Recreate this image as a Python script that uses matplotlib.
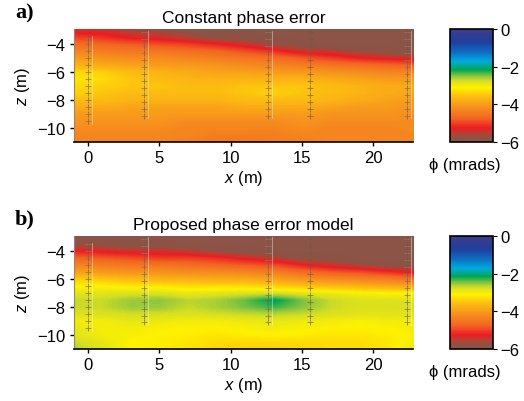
import numpy as np
import matplotlib
matplotlib.use('Agg')
import matplotlib.pyplot as plt
from matplotlib.colors import LinearSegmentedColormap

plt.rcParams['font.family'] = ['Liberation Sans', 'DejaVu Sans']
plt.rcParams['mathtext.fontset'] = 'custom'
plt.rcParams['mathtext.it'] = 'Liberation Sans:italic'
plt.rcParams['mathtext.rm'] = 'Liberation Sans'

# --- grid of the inverted sections (mrad)
grid_x = [-1, 1, 3, 5, 7, 9, 11, 13, 15, 17, 19, 21, 23]
grid_z = [-3.0, -3.5, -4.0, -4.5, -5.0, -5.5, -6.0, -6.5, -7.0,
          -7.5, -8.0, -8.5, -9.0, -9.5, -10.0, -10.5, -11.0]

phase_const = [
    [-5.4, -5.4, -5.6, -5.7, -5.8, -5.9, -6.0, -6.0, -6.0, -6.0, -6.0, -6.0, -6.0],
    [-5.0, -5.1, -5.3, -5.4, -5.6, -5.8, -5.9, -6.0, -6.0, -6.0, -6.0, -6.0, -6.0],
    [-4.6, -4.7, -4.8, -4.9, -5.0, -5.2, -5.4, -5.7, -5.9, -6.0, -6.0, -6.0, -6.0],
    [-4.3, -4.4, -4.5, -4.5, -4.6, -4.7, -4.9, -5.1, -5.4, -5.5, -5.7, -5.9, -6.0],
    [-4.0, -4.1, -4.2, -4.2, -4.3, -4.4, -4.5, -4.6, -4.8, -5.0, -5.2, -5.3, -5.4],
    [-3.7, -3.8, -3.9, -4.0, -4.0, -4.1, -4.2, -4.3, -4.4, -4.5, -4.6, -4.7, -4.8],
    [-3.3, -3.4, -3.6, -3.7, -3.8, -3.9, -3.9, -4.0, -4.0, -4.1, -4.2, -4.3, -4.3],
    [-3.2, -3.3, -3.5, -3.6, -3.7, -3.7, -3.7, -3.7, -3.7, -3.8, -3.9, -4.0, -4.0],
    [-3.3, -3.4, -3.5, -3.5, -3.6, -3.6, -3.5, -3.5, -3.5, -3.6, -3.7, -3.8, -3.8],
    [-3.4, -3.5, -3.6, -3.6, -3.6, -3.6, -3.5, -3.4, -3.5, -3.6, -3.7, -3.8, -3.9],
    [-3.6, -3.6, -3.7, -3.7, -3.7, -3.7, -3.6, -3.6, -3.6, -3.7, -3.8, -3.9, -4.0],
    [-3.8, -3.8, -3.9, -3.9, -3.9, -3.9, -3.8, -3.8, -3.8, -3.9, -4.0, -4.0, -4.1],
    [-4.0, -4.0, -4.0, -4.0, -4.0, -4.0, -4.0, -4.0, -4.0, -4.1, -4.1, -4.1, -4.2],
    [-4.1, -4.1, -4.1, -4.1, -4.2, -4.2, -4.2, -4.2, -4.1, -4.2, -4.2, -4.2, -4.2],
    [-4.2, -4.2, -4.2, -4.2, -4.3, -4.3, -4.3, -4.3, -4.2, -4.3, -4.3, -4.3, -4.2],
    [-4.3, -4.3, -4.3, -4.3, -4.3, -4.4, -4.4, -4.4, -4.3, -4.3, -4.3, -4.3, -4.3],
    [-4.3, -4.3, -4.3, -4.3, -4.4, -4.5, -4.5, -4.4, -4.4, -4.3, -4.3, -4.3, -4.3],
]

phase_model = [
    [-6.0, -6.0, -6.0, -6.0, -6.0, -6.0, -6.0, -6.0, -6.0, -6.0, -6.0, -6.0, -6.0],
    [-5.7, -5.8, -5.9, -5.9, -6.0, -6.0, -6.0, -6.0, -6.0, -6.0, -6.0, -6.0, -6.0],
    [-5.2, -5.3, -5.4, -5.4, -5.5, -5.7, -5.9, -6.0, -6.0, -6.0, -6.0, -6.0, -6.0],
    [-4.7, -4.8, -4.9, -5.0, -5.0, -5.1, -5.3, -5.5, -5.8, -5.9, -6.0, -6.0, -6.0],
    [-4.3, -4.4, -4.5, -4.5, -4.6, -4.7, -4.8, -4.9, -5.2, -5.4, -5.6, -5.8, -5.8],
    [-3.9, -4.0, -4.1, -4.1, -4.2, -4.2, -4.3, -4.4, -4.6, -4.8, -4.9, -5.1, -5.3],
    [-3.4, -3.5, -3.6, -3.7, -3.7, -3.8, -3.8, -3.9, -4.1, -4.2, -4.3, -4.4, -4.6],
    [-3.1, -3.1, -3.2, -3.2, -3.3, -3.3, -3.3, -3.4, -3.5, -3.6, -3.7, -3.8, -3.9],
    [-2.85, -2.85, -2.8, -2.8, -2.9, -2.85, -2.8, -2.75, -2.85, -2.95, -3.05, -3.1, -3.1],
    [-2.7, -2.7, -2.55, -2.5, -2.65, -2.6, -2.4, -2.1, -2.45, -2.7, -2.8, -2.8, -2.85],
    [-2.7, -2.7, -2.55, -2.55, -2.7, -2.6, -2.45, -2.3, -2.5, -2.7, -2.8, -2.8, -2.75],
    [-2.8, -2.8, -2.75, -2.75, -2.8, -2.75, -2.7, -2.65, -2.7, -2.8, -2.85, -2.85, -2.85],
    [-3.0, -3.0, -2.9, -2.95, -3.0, -3.0, -2.95, -2.9, -2.95, -3.0, -3.05, -3.0, -3.0],
    [-2.9, -3.0, -3.0, -3.05, -3.1, -3.1, -3.05, -3.0, -3.05, -3.1, -3.1, -3.1, -3.0],
    [-2.85, -3.0, -3.05, -3.1, -3.15, -3.2, -3.15, -3.1, -3.15, -3.2, -3.2, -3.15, -3.05],
    [-2.7, -2.9, -3.1, -3.15, -3.2, -3.3, -3.3, -3.3, -3.3, -3.3, -3.3, -3.2, -3.0],
    [-2.6, -2.85, -3.1, -3.15, -3.25, -3.35, -3.4, -3.4, -3.35, -3.3, -3.3, -3.2, -2.9],
]

# boreholes and electrode positions
bh_x = [0.0, 3.9, 12.6, 15.6, 22.4]
bh_top = [-3.5, -3.1, -3.1, -3.1, -3.1]
elec_offsets = [0.0, 0.5, 1.0, 1.5, 2.0, 2.5, 3.0, 3.5, 4.0, 4.5, 5.0, 5.5, 6.0]
bh_outline = [True, True, True, False, True]

titles = ['Constant phase error', 'Proposed phase error model']
panel_tags = ['a)', 'b)']
cbar_ticks = [0, -2, -4, -6]

# colour scale, from brown (-6) to dark blue (0)
cmap_stops = [
    (-6.0, '#8b5446'), (-5.75, '#8e5244'), (-5.5, '#c23a2e'), (-5.25, '#ed1c24'),
    (-4.75, '#f26522'), (-4.1, '#f7941d'), (-3.55, '#fdc010'), (-3.1, '#fff200'),
    (-2.75, '#d7df23'), (-2.5, '#8dc63f'), (-2.15, '#00a651'), (-1.7, '#00a9e0'),
    (-1.2, '#0f6cc0'), (-0.7, '#1f3f9c'), (0.0, '#3f3c8c'),
]
cmap = LinearSegmentedColormap.from_list(
    'phase', [((v + 6) / 6, c) for v, c in cmap_stops])

fig = plt.figure(figsize=(5.24, 4.02), dpi=100)

panel_bottoms = [0.644, 0.1294]
fields = [phase_const, phase_model]

for i in range(2):
    ax = fig.add_axes([0.141, panel_bottoms[i], 0.647, 0.281])
    vals = np.array(fields[i])
    dx = (grid_x[1] - grid_x[0]) / 2
    dz = (grid_z[0] - grid_z[1]) / 2
    im = ax.imshow(vals, cmap=cmap, vmin=-6, vmax=0, aspect='auto',
                   interpolation='bilinear', origin='upper',
                   extent=[grid_x[0] - dx, grid_x[-1] + dx,
                           grid_z[-1] - dz, grid_z[0] + dz])

    for bx, top, outl in zip(bh_x, bh_top, bh_outline):
        ez = [top - o for o in elec_offsets]
        if outl:
            ax.plot([bx + 0.3] * 2, [ez[0] + 0.1, ez[-1] - 0.2], color='white',
                    lw=0.6, alpha=0.45)
            ax.plot([bx] * len(ez), ez, ls='none', marker='_', ms=5,
                    mew=0.6, color='white', alpha=0.45)
        ax.plot([bx] * len(ez), ez, ls='none', marker='+', ms=4.5,
                mew=0.6, color='#6b5a48', alpha=0.75)

    ax.set_xlim(-1, 22.8)
    ax.set_ylim(-11, -2.9)
    ax.set_xticks([0, 5, 10, 15, 20])
    ax.set_yticks([-4, -6, -8, -10])
    ax.tick_params(direction='out', length=3, width=1, labelsize=12, pad=3)
    for s in ['top', 'right']:
        ax.spines[s].set_visible(False)
    ax.spines['left'].set_color('#888888')
    ax.spines['bottom'].set_linewidth(1.2)
    ax.set_xlabel('$x$ (m)', fontsize=12, labelpad=2)
    ax.set_ylabel('$z$ (m)', fontsize=12, labelpad=4)
    ax.set_title(titles[i], fontsize=12.5, pad=5)

    fig.text(15 / 524, panel_bottoms[i] + 0.281 + 0.03, panel_tags[i],
             family='Liberation Serif', fontweight='bold', fontsize=16,
             va='baseline')

    cax = fig.add_axes([0.859, panel_bottoms[i], 0.082, 0.281])
    cb = fig.colorbar(im, cax=cax, ticks=cbar_ticks)
    cb.outline.set_linewidth(1.2)
    cb.ax.tick_params(direction='out', length=3, labelsize=12, pad=2)
    fig.text(465 / 524, panel_bottoms[i] - 0.055, '\u03d5 (mrads)',
             ha='center', va='center', fontsize=12)

fig.savefig('out.png', dpi=100)
